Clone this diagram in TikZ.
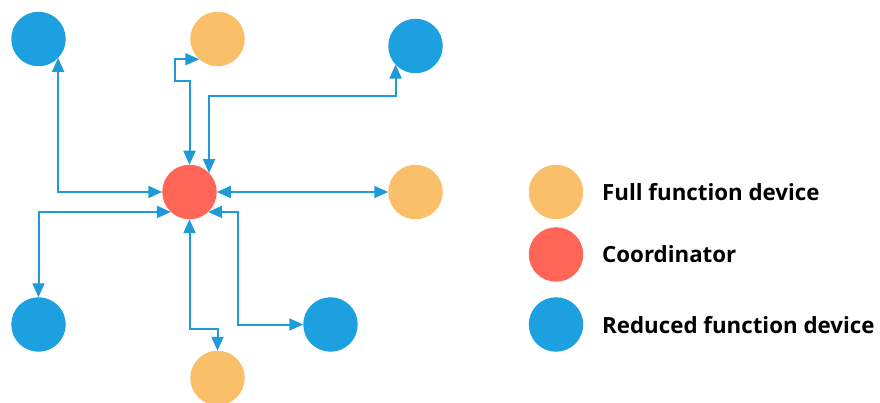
\documentclass[tikz,border=0pt]{standalone}
\usepackage{fontspec}
\setmainfont{Open Sans}
\usetikzlibrary{arrows.meta}
\definecolor{rfdblue}{RGB}{29,160,224}
\definecolor{ffdorange}{RGB}{249,192,105}
\definecolor{coordred}{RGB}{255,102,87}
\definecolor{linkblue}{RGB}{30,155,215}
\tikzset{
  dev/.style={circle, draw=none, minimum size=54.5pt, inner sep=0pt, outer sep=0pt},
  rfd/.style={dev, fill=rfdblue},
  ffd/.style={dev, fill=ffdorange},
  crd/.style={dev, fill=coordred},
  link/.style={draw=linkblue, line width=2pt, line join=miter,
    {Triangle[length=14pt,width=12pt]}-{Triangle[length=14pt,width=12pt]}},
  legendtext/.style={anchor=base west, inner sep=0pt, font=\fontsize{22.3}{26}\selectfont\bfseries}
}
\begin{document}
\begin{tikzpicture}[x=1pt, y=-1pt]
  \useasboundingbox (0,0) rectangle (880,403);

  % devices
  \node[crd] (coord) at (189.5,192) {};
  \node[rfd] (rfdA) at (38.5,39) {};
  \node[ffd] (ffdA) at (217.5,39) {};
  \node[rfd] (rfdB) at (415.5,46) {};
  \node[ffd] (ffdB) at (415.5,192) {};
  \node[rfd] (rfdC) at (38.5,324.5) {};
  \node[rfd] (rfdD) at (330.5,324.5) {};
  \node[ffd] (ffdC) at (217.5,378) {};

  % links to the coordinator
  \draw[link] (coord.west) -| (rfdA.-44);
  \draw[link] (coord.north) |- (175,81) |- (ffdA.-132);
  \draw[link] (coord.44) |- (300,96) -| (rfdB.-137);
  \draw[link] (coord.east) -- (ffdB.west);
  \draw[link] (coord.-133) -| (rfdC.north);
  \draw[link] (coord.south) |- (200,329) -| (ffdC.north);
  \draw[link] (coord.-47) -| (238,260) |- (rfdD.west);

  % legend
  \node[ffd] (keyF) at (556,192) {};
  \node[crd] (keyC) at (556,254.5) {};
  \node[rfd] (keyR) at (556,324.5) {};
  \node[legendtext] (labF) at (602,200.7) {Full function device};
  \node[legendtext] (labC) at (602,262.7) {Coordinator};
  \node[legendtext] (labR) at (602,333.3) {Reduced function device};
\end{tikzpicture}
\end{document}
